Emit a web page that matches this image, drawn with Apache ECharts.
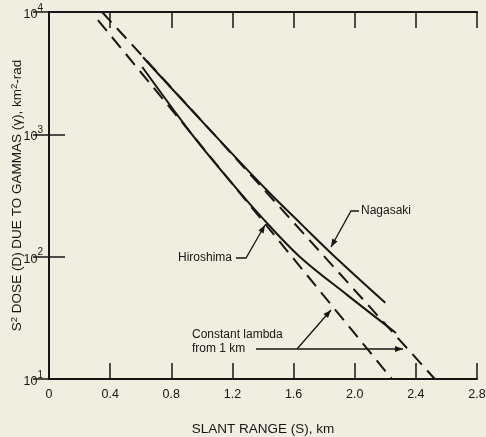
<!DOCTYPE html>
<html><head><meta charset="utf-8">
<script src="https://cdn.jsdelivr.net/npm/echarts@6/dist/echarts.min.js"></script>
<style>html,body{margin:0;padding:0;background:#f0eee0;}#c{width:486px;height:437px;}</style>
</head><body><div id="c"></div>
<script>
// ---- data ----
const xTickValues = [0, 0.4, 0.8, 1.2, 1.6, 2.0, 2.4, 2.8];
const xTickLabels = ['0', '0.4', '0.8', '1.2', '1.6', '2.0', '2.4', '2.8'];
const yTickExponents = [1, 2, 3, 4];

const hiroshimaS = [0.61, 0.935, 1.17, 1.41, 1.64, 1.95, 2.27];
const hiroshimaD = [3550, 1000, 437, 198, 100, 48.7, 23.8];

const nagasakiS = [0.615, 1.08, 1.424, 1.655, 1.87, 2.20];
const nagasakiD = [4270, 1000, 351, 182, 100, 42];

const lambdaHiroshimaS = [0.32, 0.935, 2.243];
const lambdaHiroshimaD = [8600, 1000, 10];

const lambdaNagasakiS = [0.347, 1.08, 2.524];
const lambdaNagasakiD = [10000, 1000, 10];

// ---- chart ----
const FONT = '"Liberation Sans", "DejaVu Sans", sans-serif';
const INK = '#161616';
const zip = (a, b) => a.map((v, i) => [v, b[i]]);

const chart = echarts.init(document.getElementById('c'), null, {renderer: 'canvas'});

function arrow(x1, y1, x2, y2) {
  const ang = Math.atan2(y2 - y1, x2 - x1);
  const L = 8, W = 3;
  const bx = x2 - L * Math.cos(ang), by = y2 - L * Math.sin(ang);
  const px = -Math.sin(ang) * W, py = Math.cos(ang) * W;
  return {type: 'polygon', shape: {points: [[x2, y2], [bx + px, by + py], [bx - px, by - py]]},
          style: {fill: INK}, silent: true};
}
function pline(points) {
  return {type: 'polyline', shape: {points}, style: {stroke: INK, lineWidth: 1.3, fill: null}, silent: true};
}
function txt(x, y, text, align) {
  return {type: 'text', x, y, style: {text, fill: INK, font: '12px ' + FONT,
          textAlign: align || 'left', textVerticalAlign: 'middle'}, silent: true};
}

const axisCommon = {
  axisLine: {show: true, lineStyle: {color: INK, width: 2}},
  axisTick: {show: true, inside: true, length: 16, lineStyle: {color: INK, width: 1.5}},
  splitLine: {show: false},
  minorTick: {show: false}
};

const option = {
  backgroundColor: '#f0eee0',
  animation: false,
  grid: {left: 49, right: 9, top: 12, bottom: 58, containLabel: false, outerBoundsMode: 'none'},
  xAxis: [
    Object.assign({
      type: 'value', min: 0, max: 2.8, interval: 0.4, position: 'bottom',
      name: 'SLANT RANGE (S), km', nameLocation: 'middle', nameGap: 43, nameMoveOverlap: false,
      nameTextStyle: {color: INK, fontSize: 13.5, fontFamily: FONT},
      axisLabel: {color: INK, fontSize: 12.5, fontFamily: FONT, margin: 9,
        formatter: v => { const i = xTickValues.findIndex(t => Math.abs(t - v) < 1e-6); return i >= 0 ? xTickLabels[i] : ''; }}
    }, axisCommon),
    Object.assign({
      type: 'value', min: 0, max: 2.8, interval: 0.4, position: 'top',
      axisLabel: {show: false}
    }, axisCommon)
  ],
  yAxis: [
    Object.assign({
      type: 'log', logBase: 10, min: 10, max: 10000, position: 'left',
      name: '{t|S}{u|2}{t| DOSE (D) DUE TO GAMMAS (γ), km}{u|2}{t|-rad}',
      nameLocation: 'middle', nameGap: 23, nameRotate: 90, nameMoveOverlap: false,
      nameTextStyle: {color: INK, fontFamily: FONT,
        rich: {t: {fontSize: 13.5, fontFamily: FONT, color: INK, lineHeight: 17},
               u: {fontSize: 9.5, fontFamily: FONT, color: INK, verticalAlign: 'top', lineHeight: 17}}},
      axisLabel: {color: INK, margin: 6,
        formatter: v => { const e = Math.round(Math.log10(v)); return yTickExponents.includes(e) ? '{b|10}{s|' + e + '}' : ''; },
        rich: {b: {fontSize: 12.5, fontFamily: FONT, color: INK, lineHeight: 18, verticalAlign: 'bottom'},
               s: {fontSize: 10, fontFamily: FONT, color: INK, lineHeight: 18, verticalAlign: 'top'}}}
    }, axisCommon),
    Object.assign({
      type: 'log', logBase: 10, min: 10, max: 10000, position: 'right',
      axisLabel: {show: false}
    }, axisCommon)
  ],
  series: [
    {name: 'Hiroshima', type: 'line', data: zip(hiroshimaS, hiroshimaD), showSymbol: false, smooth: 0.35,
     lineStyle: {color: INK, width: 2}, silent: true},
    {name: 'Nagasaki', type: 'line', data: zip(nagasakiS, nagasakiD), showSymbol: false, smooth: 0.35,
     lineStyle: {color: INK, width: 2}, silent: true},
    {name: 'Constant lambda (Hiroshima)', type: 'line', data: zip(lambdaHiroshimaS, lambdaHiroshimaD), showSymbol: false,
     lineStyle: {color: INK, width: 2, type: [14, 8]}, silent: true},
    {name: 'Constant lambda (Nagasaki)', type: 'line', data: zip(lambdaNagasakiS, lambdaNagasakiD), showSymbol: false,
     lineStyle: {color: INK, width: 2, type: [14, 8]}, silent: true}
  ],
  graphic: [
    txt(361, 211, 'Nagasaki'),
    pline([[359, 211], [351, 211], [331, 247]]), arrow(351, 211, 331, 247),
    txt(232, 258, 'Hiroshima', 'right'),
    pline([[236, 258], [246, 258], [265, 225]]), arrow(246, 258, 265, 225),
    txt(192, 335, 'Constant lambda'),
    txt(192, 349, 'from 1 km'),
    pline([[256, 349], [403, 349]]), arrow(256, 349, 403, 349),
    pline([[297, 349], [331, 310]]), arrow(297, 349, 331, 310)
  ]
};
chart.setOption(option);
</script></body></html>
